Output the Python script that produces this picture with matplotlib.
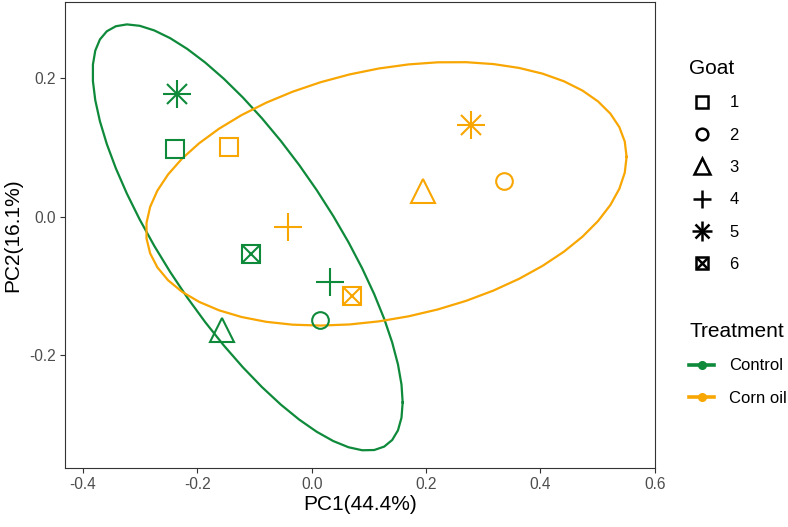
import numpy as np
import matplotlib
matplotlib.use("Agg")
import matplotlib.pyplot as plt
from matplotlib.lines import Line2D

plt.rcParams['font.family'] = ['Liberation Sans', 'DejaVu Sans']

# PCA scores, goats 1..6
goats = ["1", "2", "3", "4", "5", "6"]
control_pc1 = [-0.239, 0.015, -0.157, 0.032, -0.235, -0.107]
control_pc2 = [0.098, -0.150, -0.164, -0.094, 0.177, -0.054]
cornoil_pc1 = [-0.145, 0.337, 0.195, -0.041, 0.278, 0.070]
cornoil_pc2 = [0.101, 0.051, 0.037, -0.015, 0.133, -0.114]
treatments = ["Control", "Corn oil"]
colors = {"Control": "#0E8A3A", "Corn oil": "#F8A602"}

# ggplot-like shapes: 0 square, 1 circle, 2 triangle, 3 plus, 8 asterisk, 7 boxX
shape_specs = [
    [("s", 13)],
    [("o", 12)],
    [("^", 17)],
    [("+", 19.5)],
    [("+", 20), ("x", 14)],
    [("s", 13), ("x", 13)],
]


def cov_trob(x, nu=5, maxit=25, tol=0.01):
    # robust t estimate, same idea as MASS::cov.trob used by stat_ellipse
    n, p = x.shape
    wt = np.ones(n)
    loc = x.mean(axis=0)
    w = np.sqrt(wt)
    for it in range(maxit):
        w0 = w
        X = x - loc
        u, d, vt = np.linalg.svd(np.sqrt(wt / wt.sum())[:, None] * X, full_matrices=False)
        wX = X @ vt.T @ np.diag(1 / d)
        Q = (wX ** 2).sum(axis=1)
        w = (wt * (nu + p)) / (nu + Q)
        loc = (w[:, None] * x).sum(axis=0) / w.sum()
        if np.all(np.abs(w - w0) < tol):
            break
    sX = np.sqrt(w)[:, None] * X
    cov = sX.T @ sX / wt.sum()
    return loc, cov


def ellipse_pts(xs, ys, radius=2.5, segments=51):
    pts = np.column_stack([xs, ys])
    center, shape = cov_trob(pts)
    L = np.linalg.cholesky(shape)
    ang = np.linspace(0, 2 * np.pi, segments + 1)
    circ = np.column_stack([np.cos(ang), np.sin(ang)])
    e = center + radius * (circ @ L.T)
    return e[:, 0], e[:, 1]


fig = plt.figure(figsize=(7.88, 5.27), dpi=100)
ax = fig.add_axes([65 / 788, 1 - 468 / 527, 590 / 788, 466 / 527])

data = {"Control": (control_pc1, control_pc2), "Corn oil": (cornoil_pc1, cornoil_pc2)}
for t in treatments:
    xs, ys = data[t]
    ex, ey = ellipse_pts(xs, ys)
    ax.plot(ex, ey, color=colors[t], lw=1.6, zorder=2)
    for i in range(len(goats)):
        for m, ms in shape_specs[i]:
            ax.plot(xs[i], ys[i], marker=m, ms=ms, mfc="none", mec=colors[t],
                    mew=1.5, ls="none", zorder=3)

ax.set_xlim(-0.4315, 0.6005)
ax.set_ylim(-0.3633, 0.3104)
ax.set_xticks([-0.4, -0.2, 0.0, 0.2, 0.4, 0.6])
ax.set_xticklabels(["-0.4", "-0.2", "0.0", "0.2", "0.4", "0.6"])
ax.set_yticks([-0.2, 0.0, 0.2])
ax.set_yticklabels(["-0.2", "0.0", "0.2"])
ax.tick_params(colors="#333333", labelcolor="#4D4D4D", labelsize=11.2, length=3.6,
               width=0.8, pad=3)
for s in ax.spines.values():
    s.set_color("#333333")
    s.set_linewidth(0.8)
ax.set_xlabel("PC1(44.4%)", fontsize=15, labelpad=2)
ax.set_ylabel("PC2(16.1%)", fontsize=15, labelpad=5)

# Goat legend (shapes, black)
goat_handles = []
for i in range(len(goats)):
    hs = tuple(Line2D([], [], marker=m, ms=ms * 0.7, mfc="none", mec="black", mew=1.8, ls="none")
               for m, ms in shape_specs[i])
    goat_handles.append(hs if len(hs) > 1 else hs[0])
leg1 = fig.legend(goat_handles, goats, title="Goat", loc="upper left",
                  bbox_to_anchor=(689 / 788, 1 - 59 / 527), frameon=False, borderpad=0,
                  borderaxespad=0, fontsize=12, title_fontsize=15, labelspacing=1.04,
                  handlelength=1.5, handletextpad=0.92, alignment="left")

treat_handles = [Line2D([], [], color=colors[t], lw=2.6, marker="o", ms=5.5) for t in treatments]
leg2 = fig.legend(treat_handles, treatments, title="Treatment", loc="upper left",
                  bbox_to_anchor=(689 / 788, 1 - 322 / 527), frameon=False, borderpad=0,
                  borderaxespad=0, fontsize=12, title_fontsize=15, labelspacing=1.04,
                  handlelength=1.5, handletextpad=0.92, alignment="left")

fig.savefig("out.png", dpi=100)
